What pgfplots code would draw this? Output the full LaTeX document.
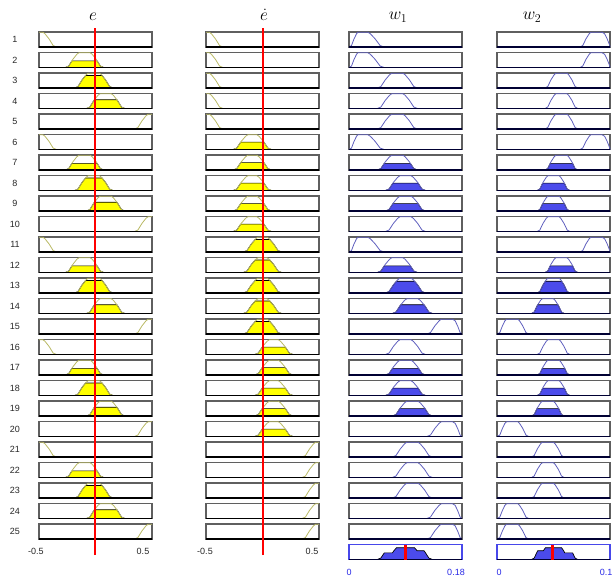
\documentclass[border=0pt]{standalone}
\usepackage{fontspec}
\setmainfont{Liberation Sans}
\usepackage{pgfplots}
\pgfplotsset{compat=1.18}
\usepackage{pgfplotstable}

\definecolor{myyellow}{RGB}{255,255,0}
\definecolor{incurve}{RGB}{185,185,100}
\definecolor{outfill}{RGB}{75,75,235}
\definecolor{outcurve}{RGB}{95,95,190}
\definecolor{boxgray}{RGB}{95,95,95}
\definecolor{myred}{RGB}{255,0,0}
\definecolor{tickblue}{RGB}{40,40,230}

% ---- membership functions: e ----
\pgfplotstableread{
x y
-0.5 1
-0.465 1
-0.447 0.9
-0.411 0.55
-0.375 0.1
-0.345 0
}\eNB
\pgfplotstableread{
x y
-0.267 0
-0.237 0.1
-0.201 0.55
-0.165 0.9
-0.147 1
-0.047 1
-0.029 0.9
0.007 0.55
0.043 0.1
0.073 0
}\eNS
\pgfplotstableread{
x y
-0.267 0
-0.237 0.1
-0.209 0.45
0.015 0.45
0.043 0.1
0.073 0
}\eNSf
\pgfplotstableread{
x y
-0.185 0
-0.155 0.1
-0.119 0.55
-0.083 0.9
-0.065 1
0.035 1
0.053 0.9
0.089 0.55
0.125 0.1
0.155 0
}\eZ
\pgfplotstableread{
x y
-0.185 0
-0.155 0.1
-0.119 0.55
-0.0881 0.85
0.0581 0.85
0.089 0.55
0.125 0.1
0.155 0
}\eZf
\pgfplotstableread{
x y
-0.08 0
-0.05 0.1
-0.014 0.55
0.022 0.9
0.04 1
0.14 1
0.158 0.9
0.194 0.55
0.23 0.1
0.26 0
}\ePS
\pgfplotstableread{
x y
-0.08 0
-0.05 0.1
-0.014 0.55
-0.0089 0.6
0.1889 0.6
0.194 0.55
0.23 0.1
0.26 0
}\ePSf
\pgfplotstableread{
x y
0.345 0
0.375 0.1
0.411 0.55
0.447 0.9
0.465 1
0.5 1
}\ePB
% ---- membership functions: e dot ----
\pgfplotstableread{
x y
-0.5 1
-0.47 1
-0.452 0.9
-0.416 0.55
-0.38 0.1
-0.35 0
}\dNB
\pgfplotstableread{
x y
-0.26 0
-0.2275 0.1
-0.1885 0.55
-0.1495 0.9
-0.13 1
-0.05 1
-0.0305 0.9
0.0085 0.55
0.0475 0.1
0.08 0
}\dNS
\pgfplotstableread{
x y
-0.26 0
-0.2275 0.1
-0.1928 0.5
0.0128 0.5
0.0475 0.1
0.08 0
}\dNSf
\pgfplotstableread{
x y
-0.17 0
-0.1375 0.1
-0.0985 0.55
-0.0595 0.9
-0.04 1
0.04 1
0.0595 0.9
0.0985 0.55
0.1375 0.1
0.17 0
}\dZ
\pgfplotstableread{
x y
-0.17 0
-0.1375 0.1
-0.0985 0.55
-0.0651 0.85
0.0651 0.85
0.0985 0.55
0.1375 0.1
0.17 0
}\dZf
\pgfplotstableread{
x y
-0.07 0
-0.0375 0.1
0.0015 0.55
0.0405 0.9
0.06 1
0.14 1
0.1595 0.9
0.1985 0.55
0.2375 0.1
0.27 0
}\dPS
\pgfplotstableread{
x y
-0.07 0
-0.0375 0.1
-0.0028 0.5
0.2028 0.5
0.2375 0.1
0.27 0
}\dPSf
\pgfplotstableread{
x y
0.35 0
0.38 0.1
0.416 0.55
0.452 0.9
0.47 1
0.5 1
}\dPB
% ---- membership functions: w1 ----
\pgfplotstableread{
x y
0 0
0.004 0.1
0.008 0.55
0.012 0.9
0.014 1
0.030 1
0.034 0.9
0.0417 0.55
0.0495 0.1
0.056 0
}\wL
\pgfplotstableread{
x y
0.045 0
0.0508 0.1
0.0577 0.55
0.0646 0.9
0.068 1
0.086 1
0.0894 0.9
0.0963 0.55
0.1032 0.1
0.109 0
}\wMa
\pgfplotstableread{
x y
0.045 0
0.0508 0.1
0.0562 0.45
0.0978 0.45
0.1032 0.1
0.109 0
}\wMaA
\pgfplotstableread{
x y
0.058 0
0.0638 0.1
0.0707 0.55
0.0776 0.9
0.081 1
0.099 1
0.1024 0.9
0.1094 0.55
0.1162 0.1
0.122 0
}\wMb
\pgfplotstableread{
x y
0.058 0
0.0638 0.1
0.0692 0.45
0.1108 0.45
0.1162 0.1
0.122 0
}\wMbA
\pgfplotstableread{
x y
0.058 0
0.0638 0.1
0.0699 0.5
0.1101 0.5
0.1162 0.1
0.122 0
}\wMbB
\pgfplotstableread{
x y
0.058 0
0.0638 0.1
0.0707 0.55
0.0756 0.8
0.1044 0.8
0.1094 0.55
0.1162 0.1
0.122 0
}\wMbC
\pgfplotstableread{
x y
0.069 0
0.0748 0.1
0.0817 0.55
0.0886 0.9
0.092 1
0.110 1
0.1134 0.9
0.1204 0.55
0.1272 0.1
0.133 0
}\wMc
\pgfplotstableread{
x y
0.069 0
0.0748 0.1
0.0809 0.5
0.1211 0.5
0.1272 0.1
0.133 0
}\wMcB
\pgfplotstableread{
x y
0.069 0
0.0748 0.1
0.0817 0.55
0.0827 0.6
0.1194 0.6
0.1204 0.55
0.1272 0.1
0.133 0
}\wMcD
\pgfplotstableread{
x y
0.124 0
0.1298 0.1
0.1367 0.55
0.1436 0.9
0.147 1
0.165 1
0.169 0.9
0.173 0.55
0.177 0.1
0.18 0
}\wR
\pgfplotstableread{
x y
0.045 0
0.0508 0.1
0.0562 0.45
0.0692 0.45
0.0707 0.55
0.0756 0.8
0.1044 0.8
0.1084 0.6
0.1194 0.6
0.1204 0.55
0.1272 0.1
0.133 0
}\wAgg
% ---- membership functions: w2 ----
\pgfplotstableread{
x y
0 0
0.0025 0.1
0.0048 0.55
0.007 0.9
0.0085 1
0.0185 1
0.0199 0.9
0.0228 0.55
0.0256 0.1
0.028 0
}\vL
\pgfplotstableread{
x y
0.0305 0
0.0329 0.1
0.0357 0.55
0.0386 0.9
0.040 1
0.050 1
0.0514 0.9
0.0543 0.55
0.0571 0.1
0.0595 0
}\vNa
\pgfplotstableread{
x y
0.0305 0
0.0329 0.1
0.0354 0.5
0.0546 0.5
0.0571 0.1
0.0595 0
}\vNaB
\pgfplotstableread{
x y
0.0305 0
0.0329 0.1
0.0357 0.55
0.0361 0.6
0.0539 0.6
0.0543 0.55
0.0571 0.1
0.0595 0
}\vNaD
\pgfplotstableread{
x y
0.0355 0
0.0379 0.1
0.0407 0.55
0.0436 0.9
0.045 1
0.055 1
0.0564 0.9
0.0593 0.55
0.0621 0.1
0.0645 0
}\vNb
\pgfplotstableread{
x y
0.0355 0
0.0379 0.1
0.0401 0.45
0.0599 0.45
0.0621 0.1
0.0645 0
}\vNbA
\pgfplotstableread{
x y
0.0355 0
0.0379 0.1
0.0404 0.5
0.0596 0.5
0.0621 0.1
0.0645 0
}\vNbB
\pgfplotstableread{
x y
0.0355 0
0.0379 0.1
0.0407 0.55
0.0428 0.8
0.0572 0.8
0.0593 0.55
0.0621 0.1
0.0645 0
}\vNbC
\pgfplotstableread{
x y
0.0425 0
0.0449 0.1
0.0477 0.55
0.0506 0.9
0.052 1
0.062 1
0.0634 0.9
0.0663 0.55
0.0691 0.1
0.0715 0
}\vNc
\pgfplotstableread{
x y
0.0425 0
0.0449 0.1
0.0471 0.45
0.0669 0.45
0.0691 0.1
0.0715 0
}\vNcA
\pgfplotstableread{
x y
0.0735 0
0.0759 0.1
0.0787 0.55
0.0816 0.9
0.083 1
0.093 1
0.0952 0.9
0.0975 0.55
0.0998 0.1
0.1 0
}\vR
\pgfplotstableread{
x y
0.0305 0
0.0329 0.1
0.0357 0.55
0.0361 0.6
0.0411 0.6
0.0428 0.8
0.0572 0.8
0.0593 0.55
0.0599 0.45
0.0669 0.45
0.0691 0.1
0.0715 0
}\vAgg

\pgfplotsset{rowbox/.style={width=113pt,height=15pt,scale only axis,anchor=north west,
  ymin=0,ymax=1.02,ticks=none,clip=false,axis line style={draw=boxgray,line width=1.3pt}}}

% input box: #1 left x, #2 row, #3 MF table, #4 clipped fill table or \relax
\newcommand{\inbox}[4]{%
\pgfmathsetmacro\ytop{-32-(#2-1)*20.5}%
\begin{axis}[rowbox,at={(#1pt,\ytop pt)},xmin=-0.5,xmax=0.5]
\ifx#4\relax\else
\addplot[fill=myyellow,draw=black,line width=0.7pt] table {#4};
\fi
\addplot[incurve,line width=0.8pt] table {#3};
\addplot[black,line width=1.7pt] coordinates {(-0.5,0) (0.5,0)};
\end{axis}}

% output box: #1 left x, #2 row, #3 xmax, #4 MF table, #5 clipped fill table or \relax
\newcommand{\outbox}[5]{%
\pgfmathsetmacro\ytop{-32-(#2-1)*20.5}%
\begin{axis}[rowbox,at={(#1pt,\ytop pt)},xmin=0,xmax=#3]
\ifx#5\relax\else
\addplot[fill=outfill,draw=black,line width=0.7pt] table {#5};
\fi
\addplot[outcurve,line width=0.8pt] table {#4};
\addplot[black!80!blue,line width=1.7pt] coordinates {(0,0) (#3,0)};
\end{axis}}

\newcommand{\fullrow}[9]{%
\inbox{39}{#1}{#2}{#3}%
\inbox{206}{#1}{#4}{#5}%
\outbox{349}{#1}{0.18}{#6}{#7}%
\outbox{497}{#1}{0.1}{#8}{#9}}

\begin{document}
\begin{tikzpicture}
\path[use as bounding box] (0pt,0pt) rectangle (616pt,-580pt);

\fullrow{1}{\eNB}{\relax}{\dNB}{\relax}{\wL}{\relax}{\vR}{\relax}
\fullrow{2}{\eNS}{\eNSf}{\dNB}{\relax}{\wL}{\relax}{\vR}{\relax}
\fullrow{3}{\eZ}{\eZf}{\dNB}{\relax}{\wMa}{\relax}{\vNc}{\relax}
\fullrow{4}{\ePS}{\ePSf}{\dNB}{\relax}{\wMa}{\relax}{\vNc}{\relax}
\fullrow{5}{\ePB}{\relax}{\dNB}{\relax}{\wMa}{\relax}{\vNc}{\relax}
\fullrow{6}{\eNB}{\relax}{\dNS}{\dNSf}{\wL}{\relax}{\vR}{\relax}
\fullrow{7}{\eNS}{\eNSf}{\dNS}{\dNSf}{\wMa}{\wMaA}{\vNc}{\vNcA}
\fullrow{8}{\eZ}{\eZf}{\dNS}{\dNSf}{\wMb}{\wMbB}{\vNb}{\vNbB}
\fullrow{9}{\ePS}{\ePSf}{\dNS}{\dNSf}{\wMb}{\wMbB}{\vNb}{\vNbB}
\fullrow{10}{\ePB}{\relax}{\dNS}{\dNSf}{\wMb}{\relax}{\vNb}{\relax}
\fullrow{11}{\eNB}{\relax}{\dZ}{\dZf}{\wL}{\relax}{\vR}{\relax}
\fullrow{12}{\eNS}{\eNSf}{\dZ}{\dZf}{\wMa}{\wMaA}{\vNc}{\vNcA}
\fullrow{13}{\eZ}{\eZf}{\dZ}{\dZf}{\wMb}{\wMbC}{\vNb}{\vNbC}
\fullrow{14}{\ePS}{\ePSf}{\dZ}{\dZf}{\wMc}{\wMcD}{\vNa}{\vNaD}
\fullrow{15}{\ePB}{\relax}{\dZ}{\dZf}{\wR}{\relax}{\vL}{\relax}
\fullrow{16}{\eNB}{\relax}{\dPS}{\dPSf}{\wMb}{\relax}{\vNb}{\relax}
\fullrow{17}{\eNS}{\eNSf}{\dPS}{\dPSf}{\wMb}{\wMbA}{\vNb}{\vNbA}
\fullrow{18}{\eZ}{\eZf}{\dPS}{\dPSf}{\wMb}{\wMbB}{\vNb}{\vNbB}
\fullrow{19}{\ePS}{\ePSf}{\dPS}{\dPSf}{\wMc}{\wMcB}{\vNa}{\vNaB}
\fullrow{20}{\ePB}{\relax}{\dPS}{\dPSf}{\wR}{\relax}{\vL}{\relax}
\fullrow{21}{\eNB}{\relax}{\dPB}{\relax}{\wMc}{\relax}{\vNa}{\relax}
\fullrow{22}{\eNS}{\eNSf}{\dPB}{\relax}{\wMc}{\relax}{\vNa}{\relax}
\fullrow{23}{\eZ}{\eZf}{\dPB}{\relax}{\wMc}{\relax}{\vNa}{\relax}
\fullrow{24}{\ePS}{\ePSf}{\dPB}{\relax}{\wR}{\relax}{\vL}{\relax}
\fullrow{25}{\ePB}{\relax}{\dPB}{\relax}{\wR}{\relax}{\vL}{\relax}

% aggregated outputs
\begin{axis}[rowbox,at={(349pt,-544.5pt)},xmin=0,xmax=0.18,axis line style={draw=tickblue!85,line width=1.1pt}]
\addplot[fill=outfill,draw=black,line width=0.7pt] table {\wAgg};
\addplot[black!80!blue,line width=1.5pt] coordinates {(0,0) (0.18,0)};
\addplot[myred,line width=3.2pt] coordinates {(0.0895,0) (0.0895,1.02)};
\end{axis}
\begin{axis}[rowbox,at={(497pt,-544.5pt)},xmin=0,xmax=0.1,axis line style={draw=tickblue!85,line width=1.1pt}]
\addplot[fill=outfill,draw=black,line width=0.7pt] table {\vAgg};
\addplot[black!80!blue,line width=1.5pt] coordinates {(0,0) (0.1,0)};
\addplot[myred,line width=3.2pt] coordinates {(0.049,0) (0.049,1.02)};
\end{axis}

% input value lines
\begin{axis}[at={(39pt,-28pt)},anchor=north west,width=113pt,height=527pt,scale only axis,
  xmin=-0.5,xmax=0.5,ymin=0,ymax=1,hide axis]
\addplot[myred,line width=1.2pt] coordinates {(-0.004,0) (-0.004,1)};
\end{axis}
\begin{axis}[at={(206pt,-28pt)},anchor=north west,width=113pt,height=527pt,scale only axis,
  xmin=-0.5,xmax=0.5,ymin=0,ymax=1,hide axis]
\addplot[myred,line width=1.2pt] coordinates {(0.004,0) (0.004,1)};
\end{axis}

% row numbers
\foreach \k in {1,...,25} {%
  \pgfmathsetmacro\yc{-32-(\k-1)*20.5-7.5}%
  \node[font=\fontsize{9}{10}\selectfont,text=black!85] at (15pt,\yc pt) {\k};
}

% titles
\node[anchor=base,font=\fontsize{17}{17}\selectfont] at (93pt,-21pt) {$e$};
\node[anchor=base,font=\fontsize{17}{17}\selectfont] at (264pt,-21pt) {$\dot{e}$};
\node[anchor=base,font=\fontsize{17}{17}\selectfont] at (398pt,-20pt) {$w_1$};
\node[anchor=base,font=\fontsize{17}{17}\selectfont] at (532pt,-20pt) {$w_2$};

% tick labels
\node[font=\fontsize{9}{10}\selectfont,text=black!85] at (36pt,-551pt) {-0.5};
\node[font=\fontsize{9}{10}\selectfont,text=black!85] at (143pt,-551pt) {0.5};
\node[font=\fontsize{9}{10}\selectfont,text=black!85] at (205pt,-551pt) {-0.5};
\node[font=\fontsize{9}{10}\selectfont,text=black!85] at (312pt,-551pt) {0.5};
\node[font=\fontsize{9}{10}\selectfont,text=tickblue] at (349pt,-572pt) {0};
\node[font=\fontsize{9}{10}\selectfont,text=tickblue] at (456pt,-572pt) {0.18};
\node[font=\fontsize{9}{10}\selectfont,text=tickblue] at (499pt,-572pt) {0};
\node[font=\fontsize{9}{10}\selectfont,text=tickblue] at (606pt,-572pt) {0.1};
\end{tikzpicture}
\end{document}
